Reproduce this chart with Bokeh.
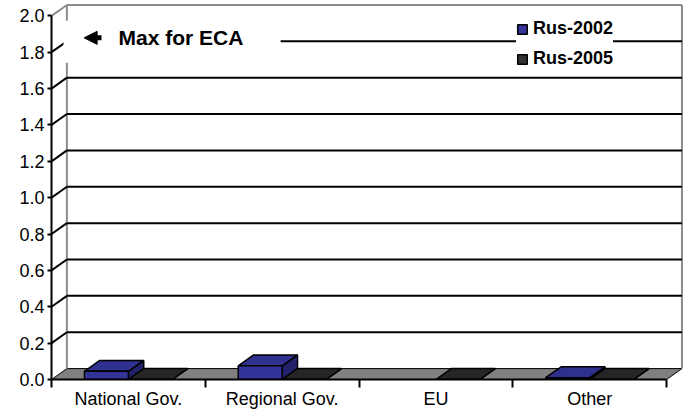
from bokeh.plotting import figure
from bokeh.models import (Range1d, FixedTicker, NumeralTickFormatter, Legend,
                          LegendItem, Arrow, NormalHead, ColumnDataSource)
from bokeh.embed import file_html
from bokeh.resources import INLINE
from bokeh.core.properties import value

# ---------------- data ----------------
categories = ["National Gov.", "Regional Gov.", "EU", "Other"]
series_names = ["Rus-2002", "Rus-2005"]
rus_2002 = [0.045, 0.075, None, 0.01]
rus_2005 = [0.0, 0.0, 0.0, 0.0]
y_ticks = [0.0, 0.2, 0.4, 0.6, 0.8, 1.0, 1.2, 1.4, 1.6, 1.8, 2.0]
eca_label = "Max for ECA"

# ---------------- style ----------------
FONT = "Liberation Sans"
DX = 0.1      # 3-D depth offset in category units
DY = 0.06     # 3-D depth offset in value units
GAP = 1.5     # Excel gap width (150%)
W = 1.0 / (2 + GAP)
YMAX = y_ticks[-1]
NCAT = len(categories)
face_colors = {
    "Rus-2002": ("#333399", "#30308f", "#22226a"),
    "Rus-2005": ("#333333", "#262626", "#1a1a1a"),
}

p = figure(frame_width=632, frame_height=376,
           x_range=Range1d(0, NCAT + DX + 0.01),
           y_range=Range1d(0, YMAX + DY + 0.008),
           output_backend="svg", toolbar_location=None,
           min_border_left=51, min_border_right=8,
           min_border_top=3, min_border_bottom=33)
p.outline_line_color = None
p.xgrid.visible = False
p.ygrid.visible = False
p.background_fill_color = "white"
p.border_fill_color = "white"

# ---- floor ----
p.patch([0, NCAT, NCAT + DX, DX], [0, 0, DY, DY],
        fill_color="#808080", line_color="black", line_width=1)

# ---- back wall borders (gray) ----
p.line([DX, DX], [DY, YMAX + DY], line_color="#8c8c8c", line_width=2)
p.line([DX, NCAT + DX], [YMAX + DY, YMAX + DY], line_color="#8c8c8c", line_width=2)
p.line([NCAT + DX, NCAT + DX], [DY, YMAX + DY], line_color="#8c8c8c", line_width=2)
p.segment(x0=[0], y0=[YMAX], x1=[DX], y1=[YMAX + DY], line_color="#8c8c8c", line_width=2)

# ---- gridlines on back wall + side-wall diagonals ----
inner = y_ticks[1:-1]
p.segment(x0=[DX] * len(inner), y0=[v + DY for v in inner],
          x1=[NCAT + DX] * len(inner), y1=[v + DY for v in inner],
          line_color="black", line_width=2)
p.segment(x0=[0] * len(inner), y0=inner,
          x1=[DX] * len(inner), y1=[v + DY for v in inner],
          line_color="black", line_width=2)

# ---- annotation box "Max for ECA" ----
p.quad(left=[0.078], right=[1.49], bottom=[1.742], top=[1.973],
       fill_color="white", line_color=None)
p.add_layout(Arrow(end=NormalHead(size=13, fill_color="black", line_color="black", line_width=1),
                   x_start=0.325, y_start=1.879, x_end=0.212, y_end=1.879,
                   line_color="black", line_width=5))
p.text(x=[0.436], y=[1.879], text=[eca_label], text_font=value(FONT),
       text_font_style="bold", text_font_size="21px", text_baseline="middle",
       text_align="left", text_color="black")

# ---- 3-D bars ----
legend_items = []
for s, (name, vals) in enumerate(zip(series_names, [rus_2002, rus_2005])):
    front_c, top_c, side_c = face_colors[name]
    lefts, rights, tops = [], [], []
    top_xs, top_ys, side_xs, side_ys = [], [], [], []
    for i, v in enumerate(vals):
        if v is None:
            continue
        x0 = i + 0.5 - W + s * W
        x1 = x0 + W
        lefts.append(x0)
        rights.append(x1)
        tops.append(v)
        top_xs.append([x0, x1, x1 + DX, x0 + DX])
        top_ys.append([v, v, v + DY, v + DY])
        side_xs.append([x1, x1, x1 + DX, x1 + DX])
        side_ys.append([0, v, v + DY, DY])
    src = ColumnDataSource(dict(left=lefts, right=rights, top=tops,
                                bottom=[0] * len(tops)))
    p.patches(side_xs, side_ys, fill_color=side_c, line_color="black", line_width=1.5)
    p.patches(top_xs, top_ys, fill_color=top_c, line_color="black", line_width=1.5)
    r = p.quad(left="left", right="right", top="top", bottom="bottom", source=src,
               fill_color=front_c, line_color="black", line_width=1.5)
    legend_items.append(LegendItem(label=name, renderers=[r]))

legend = Legend(items=legend_items, location=(465, 310),
                label_text_font=FONT, label_text_font_style="bold",
                label_text_font_size="18px", label_text_color="black",
                glyph_width=12, glyph_height=12, label_standoff=5,
                padding=6, spacing=9, margin=0,
                border_line_color=None, background_fill_color="white",
                background_fill_alpha=1.0)
p.add_layout(legend)

# ---- axes ----
ya = p.yaxis[0]
ya.ticker = FixedTicker(ticks=y_ticks, minor_ticks=[])
ya.formatter = NumeralTickFormatter(format="0.0")
ya.bounds = (0, YMAX)
ya.axis_line_color = "black"
ya.axis_line_width = 2
ya.major_tick_line_color = "black"
ya.major_tick_line_width = 2
ya.major_tick_out = 4
ya.major_tick_in = 0
ya.minor_tick_line_color = None
ya.major_label_standoff = 3
ya.major_label_text_font = FONT
ya.major_label_text_font_size = "18px"
ya.major_label_text_color = "black"

xa = p.xaxis[0]
centers = [i + 0.5 for i in range(NCAT)]
xa.ticker = FixedTicker(ticks=centers, minor_ticks=list(range(NCAT + 1)))
xa.major_label_overrides = {c: lab for c, lab in zip(centers, categories)}
xa.bounds = (0, NCAT)
xa.axis_line_color = "black"
xa.axis_line_width = 2
xa.major_tick_line_color = None
xa.major_tick_out = 0
xa.major_tick_in = 0
xa.minor_tick_line_color = "black"
xa.minor_tick_line_width = 2
xa.minor_tick_out = 8
xa.minor_tick_in = 0
xa.major_label_standoff = 1
xa.major_label_text_font = FONT
xa.major_label_text_font_size = "18px"
xa.major_label_text_color = "black"

open("out.html", "w").write(file_html(p, INLINE))
